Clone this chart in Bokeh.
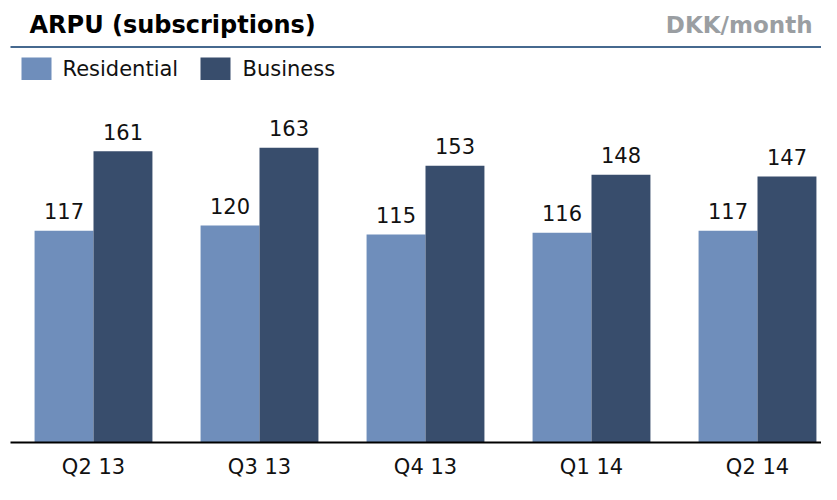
import numpy as np
from bokeh.plotting import figure
from bokeh.models import Range1d, ColumnDataSource, Label
from bokeh.core.properties import value
from bokeh.embed import file_html
from bokeh.resources import INLINE

# ---- data ----
quarters = ["Q2 13", "Q3 13", "Q4 13", "Q1 14", "Q2 14"]
residential = [117, 120, 115, 116, 117]
business = [161, 163, 153, 148, 147]
series_names = ["Residential", "Business"]
title_text = "ARPU (subscriptions)"
unit_text = "DKK/month"

# ---- style ----
C_RES = "#6f8ebb"
C_BUS = "#384d6c"
C_RULE = "#46698f"
C_GRAY = "#9a9ea2"
FONT = "DejaVu Sans"

W, H = 821, 484
REF_H = 500.0            # layout designed on a 500px-high sheet, mapped onto H
PX_PER_CAT = 166.0
PX_PER_UNIT = 1.868      # on the 500px sheet
BASE_PX = 456.5          # baseline on the 500px sheet
FIRST_CENTER_PX = 93.0

x0 = -FIRST_CENTER_PX / PX_PER_CAT
y0 = -(REF_H - BASE_PX) / PX_PER_UNIT
y1 = BASE_PX / PX_PER_UNIT

def X(px):
    return x0 + px / PX_PER_CAT

def Y(py):
    return (BASE_PX - py) / PX_PER_UNIT

p = figure(width=W, height=H, output_backend="svg", toolbar_location=None,
           x_range=Range1d(x0, x0 + W / PX_PER_CAT), y_range=Range1d(y0, y1),
           min_border=0, x_axis_type=None, y_axis_type=None)
p.outline_line_color = None
p.grid.visible = False
p.background_fill_color = "white"
p.border_fill_color = "white"

idx = np.arange(len(quarters))
bw = 0.355
off = 0.1775
gap = 20 / PX_PER_UNIT
src = ColumnDataSource(dict(xr=idx - off, xb=idx + off, res=residential, bus=business,
                            q=quarters, idx=idx,
                            yr=np.array(residential) + gap, yb=np.array(business) + gap,
                            rl=[str(v) for v in residential], bl=[str(v) for v in business]))

p.vbar(x="xr", top="res", bottom=0, width=bw, fill_color=C_RES, line_color=None, source=src)
p.vbar(x="xb", top="bus", bottom=0, width=bw, fill_color=C_BUS, line_color=None, source=src)

for xc, yc, tc in (("xr", "yr", "rl"), ("xb", "yb", "bl")):
    p.text(x=xc, y=yc, text=tc, source=src, text_align="center", text_baseline="middle",
           text_font=value(FONT), text_font_size="21px", text_color="#111111")

# baseline
p.segment(x0=[X(10)], y0=[0], x1=[X(845)], y1=[0], line_color="#000000", line_width=2)
# header rule
p.segment(x0=[X(10)], y0=[Y(48)], x1=[X(845)], y1=[Y(48)], line_color=C_RULE, line_width=2)

# category labels
p.text(x="idx", y=Y(482), text="q", source=src, text_align="center", text_baseline="middle",
       text_font=value(FONT), text_font_size="21px", text_color="#111111")

# title and unit
p.add_layout(Label(x=X(29), y=Y(25), text=title_text, text_font=FONT, text_font_size="24px",
                   text_font_style="bold", text_color="#000000", text_baseline="middle",
                   text_align="left"))
p.add_layout(Label(x=X(812), y=Y(25), text=unit_text, text_font=FONT, text_font_size="23px",
                   text_font_style="bold", text_color=C_GRAY, text_baseline="middle",
                   text_align="right"))

# legend
leg_sq = [(21, 51), (200, 230)]
leg_tx = [62, 242]
for (l, r), tx, name, col in zip(leg_sq, leg_tx, series_names, [C_RES, C_BUS]):
    p.quad(left=[X(l)], right=[X(r)], top=[Y(59)], bottom=[Y(82)], fill_color=col, line_color=None)
    p.add_layout(Label(x=X(tx), y=Y(71), text=name, text_font=FONT, text_font_size="21px",
                       text_color="#111111", text_baseline="middle", text_align="left"))

open("out.html", "w").write(file_html(p, INLINE))
